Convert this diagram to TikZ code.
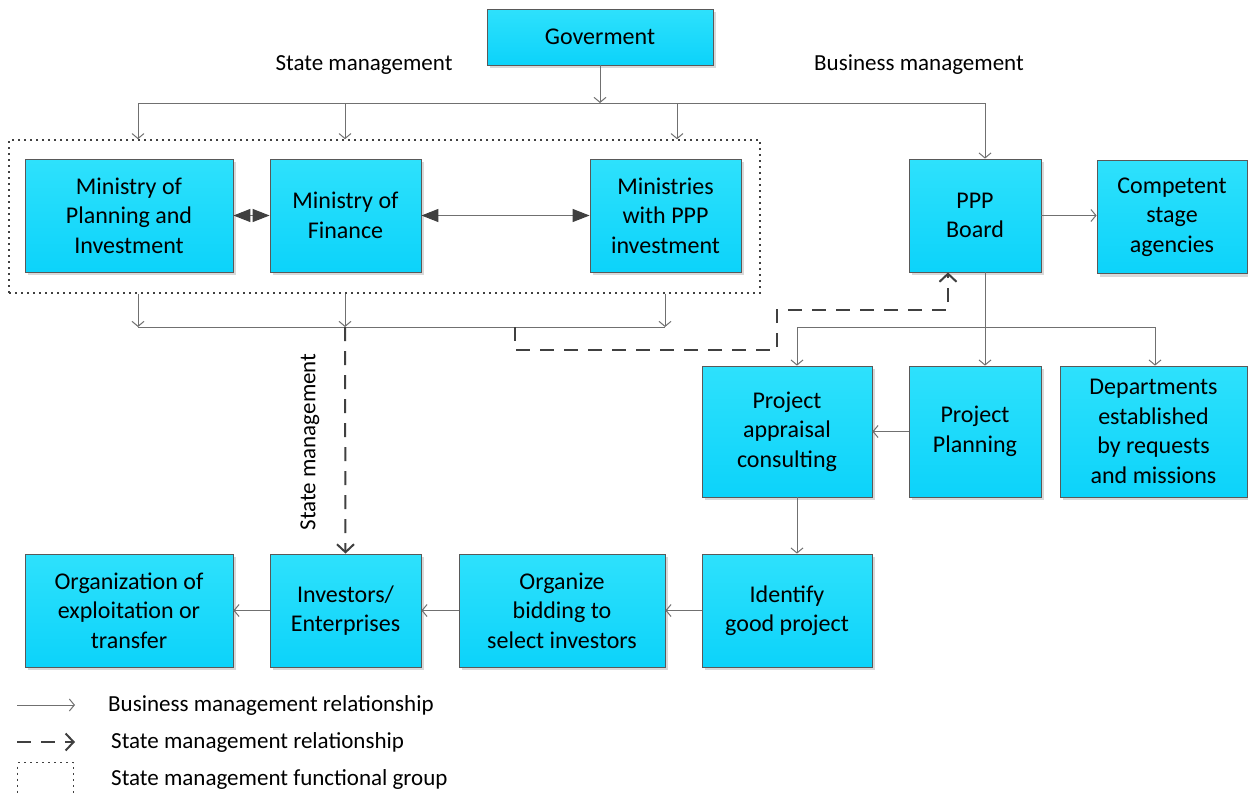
\documentclass[tikz,border=0pt]{standalone}
\usepackage{fontspec}
\setmainfont{Carlito}
\usetikzlibrary{arrows.meta,shadows}
\definecolor{boxtop}{RGB}{46,225,252}
\definecolor{boxbot}{RGB}{12,211,250}
\definecolor{linegray}{RGB}{112,112,112}
\definecolor{darkline}{RGB}{64,64,64}

\begin{document}
\begin{tikzpicture}[x=1pt,y=-1pt,
  box/.style={draw=black!65, line width=0.8pt, top color=boxtop, bottom color=boxbot,
    align=center, inner sep=0pt, font=\fontsize{24}{29.5}\selectfont,
    drop shadow={shadow xshift=3pt, shadow yshift=-3pt, fill=black, opacity=0.15}},
  lbl/.style={font=\fontsize{23}{28}\selectfont, inner sep=0pt},
  biz/.style={draw=linegray, line width=1pt, -{Straight Barb[length=5pt,width=12pt]}},
  bizline/.style={draw=linegray, line width=1pt},
  state/.style={draw=darkline, line width=2pt, dash pattern=on 14pt off 10pt,
    -{Straight Barb[length=8pt,width=17pt,line width=2pt]}},
  both/.style={draw=linegray, line width=1.2pt,
    {Triangle[length=17pt,width=13pt,fill=darkline,color=darkline]}-{Triangle[length=17pt,width=13pt,fill=darkline,color=darkline]}},
  group/.style={draw=darkline, line width=1.6pt, dash pattern=on 2pt off 4pt, inner sep=0pt}
]
\clip (0,0) rectangle (1248,793);
\useasboundingbox (0,0) rectangle (1248,793);

% functional group frame
\node[group, minimum width=751, minimum height=153] (grp) at (384.5,216.5) {};

% boxes
\node[box, minimum width=226, minimum height=56]  (gov)  at (600,37)     {Goverment};
\node[box, minimum width=208, minimum height=113] (mpi)  at (129,215.5)  {Ministry of\\Planning and\\Investment};
\node[box, minimum width=151, minimum height=113] (mof)  at (345.5,215.5){Ministry of\\Finance};
\node[box, minimum width=151, minimum height=113] (mppp) at (665.5,215.5){Ministries\\with PPP\\investment};
\node[box, minimum width=132, minimum height=113] (ppp)  at (975,215.5)  {PPP\\Board};
\node[box, minimum width=150, minimum height=113] (csa)  at (1172,217)   {Competent\\stage\\agencies};
\node[box, minimum width=170, minimum height=131] (pac)  at (787,431.5)  {Project\\appraisal\\consulting};
\node[box, minimum width=132, minimum height=131] (pp)   at (975,431.5)  {Project\\Planning};
\node[box, minimum width=187, minimum height=131] (dept) at (1153.5,431.5){Departments\\established\\by requests\\and missions};
\node[box, minimum width=208, minimum height=113] (oet)  at (129,610.5)  {Organization of\\exploitation or\\transfer};
\node[box, minimum width=151, minimum height=113] (inv)  at (345.5,610.5){Investors/\\Enterprises};
\node[box, minimum width=206, minimum height=113] (obs)  at (562,610.5)  {Organize\\bidding to\\select investors};
\node[box, minimum width=170, minimum height=113] (igp)  at (787,610.5)  {Identify\\good project};

% labels
\node[lbl] (lstate) at (364,65) {State management};
\node[lbl] (lbiz)   at (919,65) {Business management};
\node[lbl, rotate=90] (lstate2) at (310,442) {State management};

% top distribution bus
\coordinate (tb) at (600,103);
\coordinate (tb1) at (138,103);
\coordinate (tb2) at (345,103);
\coordinate (tb3) at (677,103);
\coordinate (tb4) at (985,103);
\draw[biz] (gov.south) -- (tb);
\draw[bizline] (tb1) -- (tb4);
\draw[biz] (tb1) -- (tb1 |- grp.north);
\draw[biz] (tb2) -- (tb2 |- grp.north);
\draw[biz] (tb3) -- (tb3 |- grp.north);
\draw[biz] (tb4) -- (tb4 |- ppp.north);

% ministries relations
\draw[both] (mpi.east) -- (mof.west);
\draw[both] (mof.east) -- (mppp.west);

% lower bus of the group
\coordinate (gb1) at (138,327);
\coordinate (gb2) at (345,327);
\coordinate (gb3) at (665,327);
\draw[biz] (gb1 |- grp.south) -- (gb1);
\draw[biz] (gb2 |- grp.south) -- (gb2);
\draw[biz] (gb3 |- grp.south) -- (gb3);
\draw[bizline] (gb1) -- (gb3);

% state management links
\draw[state] (gb2) -- (inv.north);
\coordinate (sd0) at (515,327);
\coordinate (sd1) at (515,350);
\coordinate (sd2) at (777,350);
\coordinate (sd3) at (777,310);
\coordinate (sd4) at (948,310);
\draw[state] (sd0) -- (sd1) -- (sd2) -- (sd3) -- (sd4) -- (sd4 |- ppp.south);

% PPP board bus
\coordinate (pb) at (985,327);
\coordinate (pb1) at (797,327);
\coordinate (pb2) at (1155,327);
\draw[bizline] (ppp.south -| pb) -- (pb);
\draw[bizline] (pb1) -- (pb2);
\draw[biz] (pb1) -- (pb1 |- pac.north);
\draw[biz] (pb) -- (pb |- pp.north);
\draw[biz] (pb2) -- (pb2 |- dept.north);

\draw[biz] (ppp.east) -- (csa.west |- ppp.east);
\draw[biz] (pp.west) -- (pac.east);
\draw[biz] (pac.south -| pb1) -- (igp.north -| pb1);
\draw[biz] (igp.west) -- (obs.east);
\draw[biz] (obs.west) -- (inv.east);
\draw[biz] (inv.west) -- (oet.east);

% legend
\coordinate (la1) at (17,705);
\coordinate (la2) at (75,705);
\draw[biz] (la1) -- (la2);
\node[lbl, anchor=west] (lg1) at (108,705) {Business management relationship};
\coordinate (lb1) at (17,742);
\coordinate (lb2) at (75,742);
\draw[state] (lb1) -- (lb2);
\node[lbl, anchor=west] (lg2) at (111,742) {State management relationship};
\node[group, line width=1.2pt, minimum width=56, minimum height=40, anchor=north west] (lgrp) at (17,762) {};
\node[lbl, anchor=west] (lg3) at (111,779) {State management functional group};
\end{tikzpicture}
\end{document}
